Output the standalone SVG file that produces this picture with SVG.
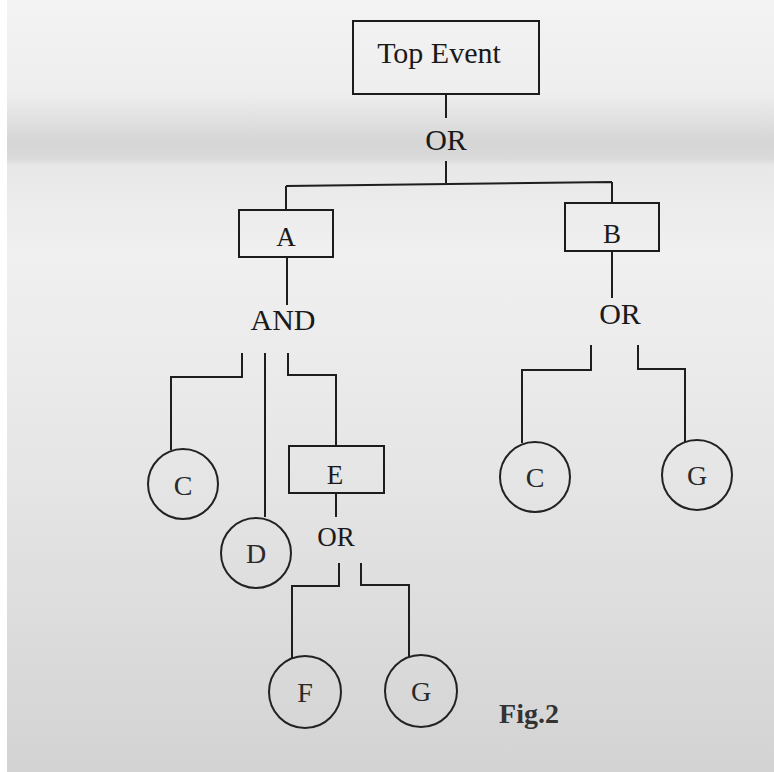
<svg xmlns="http://www.w3.org/2000/svg" width="774" height="772" viewBox="0 0 774 772">
  <defs>
    <linearGradient id="paper" x1="0" y1="0" x2="0" y2="1">
      <stop offset="0" stop-color="#f3f3f3"/>
      <stop offset="0.12" stop-color="#eeeeee"/>
      <stop offset="0.185" stop-color="#d5d5d5"/>
      <stop offset="0.205" stop-color="#dadada"/>
      <stop offset="0.215" stop-color="#e8e8e8"/>
      <stop offset="0.33" stop-color="#f0f0f0"/>
      <stop offset="0.6" stop-color="#e6e6e6"/>
      <stop offset="1" stop-color="#d3d3d3"/>
    </linearGradient>
    <style>
      .box { fill: none; stroke: #1c1c1c; stroke-width: 2; }
      .evt { fill: none; stroke: #222; stroke-width: 2; }
      .wire { fill: none; stroke: #1e1e1e; stroke-width: 2; }
      .lbl { font-family: "Liberation Serif", "Times New Roman", serif; fill: #1a1a1a; text-anchor: middle; }
      .big { font-size: 30px; }
      .mid { font-size: 27px; }
      .cap { font-size: 28px; fill: #2a2a2a; }
      .fig { font-size: 28px; font-weight: bold; fill: #333; }
    </style>
  </defs>

  <!-- scanned page -->
  <rect x="0" y="0" width="774" height="772" fill="#ffffff"/>
  <rect x="7" y="0" width="767" height="772" fill="url(#paper)"/>

  <!-- connectors -->
  <g id="connectors" class="wire">
    <path d="M446 94 V118"/>
    <path d="M446 161 V183 M286 186 L612 182 M286 186 V210 M612 182 V203"/>
    <path d="M287 257 V305"/>
    <path d="M242 353 V377 H171 V450"/>
    <path d="M265 353 V517"/>
    <path d="M288 353 V375 H336 V446"/>
    <path d="M336 493 V517"/>
    <path d="M339 563 V586 H292 V659"/>
    <path d="M361 563 V585 H409 V657"/>
    <path d="M612 251 V298"/>
    <path d="M591 345 V370 H522 V443"/>
    <path d="M638 345 V369 H685 V442"/>
  </g>

  <!-- gate labels -->
  <g id="gate-top" class="lbl big"><text x="446" y="150">OR</text></g>
  <g id="gate-a" class="lbl big"><text x="283" y="330">AND</text></g>
  <g id="gate-b" class="lbl big"><text x="620" y="324">OR</text></g>
  <g id="gate-e" class="lbl mid"><text x="336" y="546">OR</text></g>

  <!-- intermediate events -->
  <g id="top-event">
    <rect class="box" x="353" y="21" width="186" height="73"/>
    <text class="lbl big" x="439" y="63">Top Event</text>
  </g>
  <g id="event-a">
    <rect class="box" x="239" y="210" width="94" height="47"/>
    <text class="lbl mid" x="286" y="246">A</text>
  </g>
  <g id="event-b">
    <rect class="box" x="565" y="203" width="94" height="48"/>
    <text class="lbl mid" x="612" y="243">B</text>
  </g>
  <g id="event-e">
    <rect class="box" x="289" y="446" width="95" height="47"/>
    <text class="lbl mid" x="335" y="484">E</text>
  </g>

  <!-- basic events -->
  <g id="basic-c1">
    <circle class="evt" cx="183" cy="484" r="35"/>
    <text class="lbl cap" x="183" y="495">C</text>
  </g>
  <g id="basic-d">
    <circle class="evt" cx="256" cy="553" r="35"/>
    <text class="lbl cap" x="256" y="563">D</text>
  </g>
  <g id="basic-f">
    <circle class="evt" cx="305" cy="692" r="36"/>
    <text class="lbl cap" x="305" y="702">F</text>
  </g>
  <g id="basic-g1">
    <circle class="evt" cx="421" cy="691" r="36"/>
    <text class="lbl cap" x="421" y="701">G</text>
  </g>
  <g id="basic-c2">
    <circle class="evt" cx="535" cy="477" r="35"/>
    <text class="lbl cap" x="535" y="487">C</text>
  </g>
  <g id="basic-g2">
    <circle class="evt" cx="697" cy="475" r="35"/>
    <text class="lbl cap" x="697" y="485">G</text>
  </g>

  <!-- caption -->
  <text class="lbl fig" x="529" y="723">Fig.2</text>
</svg>
